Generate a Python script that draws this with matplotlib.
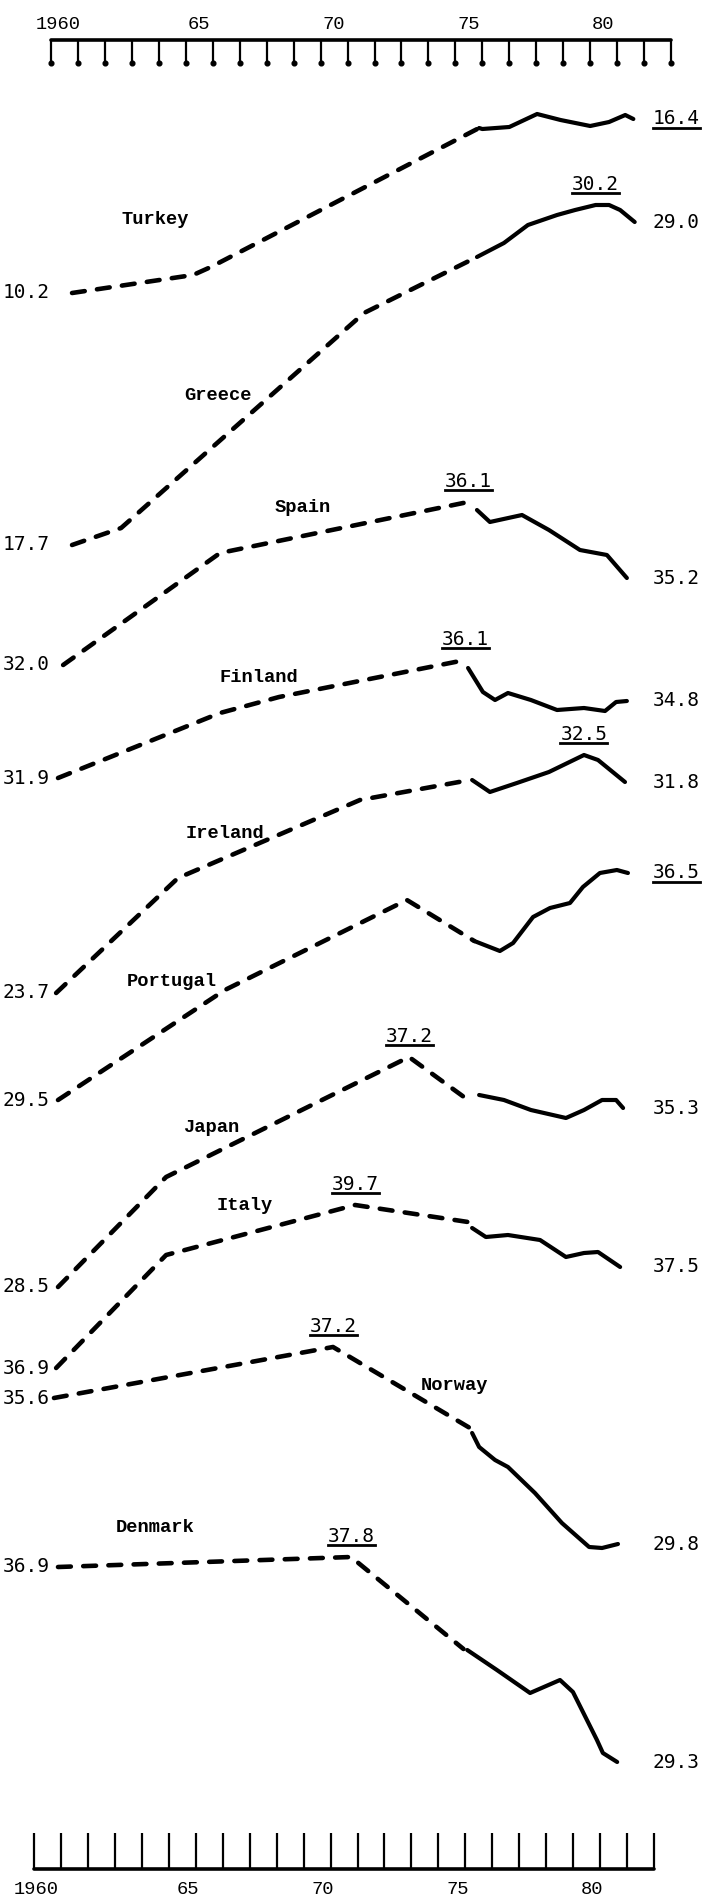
import matplotlib

matplotlib.use("Agg")
import matplotlib.pyplot as plt
from matplotlib.lines import Line2D
from matplotlib.transforms import ScaledTranslation

W, H = 705, 1902          # output size in pixels (dpi 100)
PX_PER_YEAR = 26.96       # ruler spacing
X0_PX = 51                # 1960 tick of the top ruler

# ---- data: x in years, y = vertical position on the sheet (rows from top) ----
COUNTRIES = ["Turkey", "Greece", "Spain", "Finland", "Ireland",
             "Portugal", "Japan", "Italy", "Norway", "Denmark"]

turkey_dash_yr = [1960.78, 1965.27, 1965.93, 1975.88]
turkey_dash_y = [293, 275, 267, 128]
turkey_solid_yr = [1975.88, 1976.0, 1977.0, 1978.03, 1978.9, 1980.0, 1980.7, 1981.3, 1981.6]
turkey_solid_y = [128, 129, 127, 114, 120, 126, 122, 115, 119]

greece_dash_yr = [1960.78, 1962.6, 1971.61, 1975.8]
greece_dash_y = [545, 528, 313, 257]
greece_solid_yr = [1975.8, 1976.8, 1977.69, 1978.77, 1979.44, 1980.2, 1980.7, 1981.11, 1981.65]
greece_solid_y = [257, 243, 225, 215, 210, 205, 205, 210, 222]

spain_dash_yr = [1960.45, 1966.27, 1975.47]
spain_dash_y = [665, 553, 502]
spain_solid_yr = [1975.8, 1976.28, 1977.47, 1978.47, 1979.62, 1980.62, 1981.36]
spain_solid_y = [510, 522, 515, 530, 550, 555, 578]

finland_dash_yr = [1960.26, 1966.27, 1968.46, 1975.36]
finland_dash_y = [778, 713, 697, 660]
finland_solid_yr = [1975.47, 1976.02, 1976.47, 1976.95, 1977.8, 1978.77, 1979.77, 1980.55, 1980.96, 1981.36]
finland_solid_y = [668, 692, 700, 693, 700, 710, 708, 711, 702, 701]

ireland_dash_yr = [1960.19, 1964.71, 1971.46, 1975.54]
ireland_dash_y = [993, 878, 800, 780]
ireland_solid_yr = [1975.62, 1976.28, 1977.28, 1978.47, 1979.77, 1980.29, 1981.29]
ireland_solid_y = [780, 792, 783, 772, 755, 760, 782]

portugal_dash_yr = [1960.26, 1966.45, 1973.2, 1975.7]
portugal_dash_y = [1100, 990, 900, 941]
portugal_solid_yr = [1975.7, 1976.65, 1977.14, 1977.88, 1978.51, 1979.25, 1979.73, 1980.36, 1980.99, 1981.4]
portugal_solid_y = [941, 951, 943, 917, 908, 903, 887, 873, 870, 873]

japan_dash_yr = [1960.26, 1964.27, 1973.28, 1975.47]
japan_dash_y = [1287, 1177, 1057, 1100]
japan_solid_yr = [1975.88, 1976.8, 1977.8, 1979.1, 1979.77, 1980.44, 1980.96, 1981.22]
japan_solid_y = [1095, 1100, 1110, 1118, 1110, 1100, 1100, 1108]

italy_dash_yr = [1960.19, 1964.27, 1971.28, 1975.47]
italy_dash_y = [1368, 1255, 1205, 1222]
italy_solid_yr = [1975.62, 1976.13, 1976.95, 1978.14, 1979.1, 1979.77, 1980.29, 1981.11]
italy_solid_y = [1228, 1237, 1235, 1240, 1257, 1253, 1252, 1267]

norway_dash_yr = [1960.11, 1970.46, 1975.54]
norway_dash_y = [1398, 1347, 1428]
norway_solid_yr = [1975.62, 1975.88, 1976.47, 1976.95, 1977.95, 1978.95, 1979.96, 1980.44, 1981.03]
norway_solid_y = [1433, 1447, 1460, 1467, 1493, 1523, 1547, 1548, 1544]

denmark_dash_yr = [1960.26, 1971.13, 1975.3]
denmark_dash_y = [1567, 1557, 1649]
denmark_solid_yr = [1975.44, 1976.54, 1977.77, 1978.88, 1979.36, 1980.25, 1980.47, 1981.0]
denmark_solid_y = [1650, 1670, 1693, 1680, 1692, 1740, 1753, 1762]

START_LABELS = ["10.2", "17.7", "32.0", "31.9", "23.7", "29.5", "28.5", "36.9", "35.6", "36.9"]
END_LABELS = ["16.4", "29.0", "35.2", "34.8", "31.8", "36.5", "35.3", "37.5", "29.8", "29.3"]
PEAK_LABELS = [None, "30.2", "36.1", "36.1", "32.5", None, "37.2", "39.7", "37.2", "37.8"]

# where the typist put the country names (year, row)
NAME_POS = [(1963.86, 219), (1966.19, 396), (1969.35, 508), (1967.72, 677), (1966.45, 833),
            (1964.49, 982), (1965.93, 1128), (1967.2, 1205), (1974.95, 1385), (1963.86, 1528)]

RULER_YEARS = list(range(1960, 1984))
RULER_LABELS = {1960: "1960", 1965: "65", 1970: "70", 1975: "75", 1980: "80"}

DASH = [(turkey_dash_yr, turkey_dash_y), (greece_dash_yr, greece_dash_y),
        (spain_dash_yr, spain_dash_y), (finland_dash_yr, finland_dash_y),
        (ireland_dash_yr, ireland_dash_y), (portugal_dash_yr, portugal_dash_y),
        (japan_dash_yr, japan_dash_y), (italy_dash_yr, italy_dash_y),
        (norway_dash_yr, norway_dash_y), (denmark_dash_yr, denmark_dash_y)]
SOLID = [(turkey_solid_yr, turkey_solid_y), (greece_solid_yr, greece_solid_y),
         (spain_solid_yr, spain_solid_y), (finland_solid_yr, finland_solid_y),
         (ireland_solid_yr, ireland_solid_y), (portugal_solid_yr, portugal_solid_y),
         (japan_solid_yr, japan_solid_y), (italy_solid_yr, italy_solid_y),
         (norway_solid_yr, norway_solid_y), (denmark_solid_yr, denmark_solid_y)]

NAME_FONT = "Liberation Mono"
NUM_FONT = "DejaVu Sans Mono"


def px2yr(px):
    return 1960 + (px - X0_PX) / PX_PER_YEAR


def ruler(fig, left_px, y_top, y_bot, top, label_dx, pad):
    width = (RULER_YEARS[-1] - RULER_YEARS[0]) * PX_PER_YEAR
    rax = fig.add_axes([left_px / W, 1 - y_bot / H, width / W, (y_bot - y_top) / H])
    rax.set_xlim(RULER_YEARS[0], RULER_YEARS[-1])
    rax.set_ylim(0, 1)
    rax.patch.set_visible(False)
    for s in rax.spines.values():
        s.set_visible(False)
    side = "top" if top else "bottom"
    rax.spines[side].set_visible(True)
    rax.spines[side].set_linewidth(2.6)
    rax.spines[side].set_capstyle("round")
    rax.set_yticks([])
    rax.set_xticks(RULER_YEARS)
    rax.set_xticklabels([RULER_LABELS.get(y, "") for y in RULER_YEARS],
                        fontfamily=NAME_FONT, fontsize=13.5)
    rax.tick_params(axis="x", direction="in", length=(y_bot - y_top) * 0.72, width=1.6,
                    top=top, bottom=not top, labeltop=top, labelbottom=not top, pad=pad)
    for yr, lab in zip(RULER_YEARS, rax.get_xticklabels()):
        if yr in RULER_LABELS:
            dx = label_dx[0] if yr == 1960 else label_dx[1]
            lab.set_transform(lab.get_transform() + ScaledTranslation(dx / 100, 0, fig.dpi_scale_trans))
    if top:
        # typewriter blobs at the ends of the ticks
        rax.plot(RULER_YEARS, [0] * len(RULER_YEARS), "o", color="black", ms=3.4, clip_on=False)
    return rax


def main():
    fig = plt.figure(figsize=(W / 100, H / 100), dpi=100, facecolor="white")
    ax = fig.add_axes([0, 0, 1, 1])
    ax.set_xlim(px2yr(0), px2yr(W))
    ax.set_ylim(H, 0)
    ax.axis("off")

    ruler(fig, X0_PX, 40, 63, True, (7, 13), 5)
    ruler(fig, 34, 1833, 1869, False, (2, 19), 9)

    underlined = []
    for i, name in enumerate(COUNTRIES):
        dx, dy = DASH[i]
        sx, sy = SOLID[i]
        ax.plot(dx, dy, color="black", lw=3.3, ls=(0, (2.8, 2.7)),
                dash_capstyle="round", dash_joinstyle="round")
        ax.plot(sx, sy, color="black", lw=3.0, solid_capstyle="round", solid_joinstyle="round")

        ax.text(px2yr(50), dy[0], START_LABELS[i], ha="right", va="center",
                fontfamily=NUM_FONT, fontsize=14)
        t = ax.text(px2yr(653), sy[-1], END_LABELS[i], ha="left", va="center",
                    fontfamily=NUM_FONT, fontsize=14)
        if PEAK_LABELS[i] is None:
            underlined.append(t)
        else:
            allx, ally = dx + sx, dy + sy
            k = ally.index(min(ally))
            p = ax.annotate(PEAK_LABELS[i], (allx[k], ally[k]), xytext=(0, 15),
                            textcoords="offset points", ha="center", va="center",
                            fontfamily=NUM_FONT, fontsize=14)
            underlined.append(p)

        nx, ny = NAME_POS[i]
        ax.text(nx, ny, name, ha="center", va="center", fontfamily=NAME_FONT,
                fontsize=13.5, fontweight="bold")

    fig.canvas.draw()
    r = fig.canvas.get_renderer()
    inv = fig.transFigure.inverted()
    for t in underlined:
        bb = t.get_window_extent(r)
        (x0, y0), (x1, _) = inv.transform([[bb.x0, bb.y0 + 1], [bb.x1, bb.y1]])
        fig.add_artist(Line2D([x0, x1], [y0, y0], transform=fig.transFigure,
                              color="black", lw=2.0))

    fig.savefig("out.png", dpi=100, facecolor="white")


if __name__ == "__main__":
    main()
